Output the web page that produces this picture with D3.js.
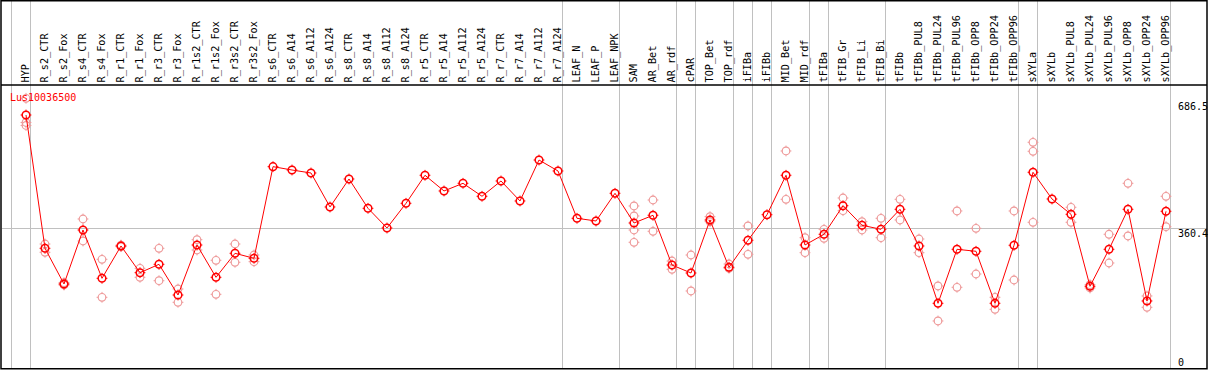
<!DOCTYPE html>
<html><head><meta charset="utf-8">
<script src="https://cdn.jsdelivr.net/npm/d3@7/dist/d3.min.js"></script>
<style>html,body{margin:0;padding:0;background:#fff;}svg{display:block;}</style>
</head><body>
<svg id="chart" width="1209" height="370"></svg>
<script>
const title = "Lus10036500";
const categories = ["HYP","R_s2_CTR","R_s2_Fox","R_s4_CTR","R_s4_Fox","R_r1_CTR","R_r1_Fox","R_r3_CTR","R_r3_Fox","R_r1s2_CTR","R_r1s2_Fox","R_r3s2_CTR","R_r3s2_Fox","R_s6_CTR","R_s6_A14","R_s6_A112","R_s6_A124","R_s8_CTR","R_s8_A14","R_s8_A112","R_s8_A124","R_r5_CTR","R_r5_A14","R_r5_A112","R_r5_A124","R_r7_CTR","R_r7_A14","R_r7_A112","R_r7_A124","LEAF_N","LEAF_P","LEAF_NPK","SAM","AR_Bet","AR_rdf","cPAR","TOP_Bet","TOP_rdf","iFIBa","iFIBb","MID_Bet","MID_rdf","tFIBa","tFIB_Gr","tFIB_Li","tFIB_Bi","tFIBb","tFIBb_PUL8","tFIBb_PUL24","tFIBb_PUL96","tFIBb_OPP8","tFIBb_OPP24","tFIBb_OPP96","sXYLa","sXYLb","sXYLb_PUL8","sXYLb_PUL24","sXYLb_PUL96","sXYLb_OPP8","sXYLb_OPP24","sXYLb_OPP96"];
const means = [652.7,308.8,216.7,356,231.4,314.8,245.9,267.5,188.3,317.3,234,295.9,283,519.4,510.8,503.1,415.4,487.6,412,361.2,424.9,497.2,456.7,476.5,443,482.5,430.9,536.6,508.3,386.2,379.3,450.7,374.1,394,265.7,245.1,381.8,259.8,329.5,395.5,497.2,317.3,344.9,418.7,368.2,357.8,409.4,314.8,166.9,306.2,301.1,166.9,316.6,504.9,436,396.5,210.8,306.2,409.4,172.9,404.3];
const replicates = [[695.8,633.4,625.7],[319.9,298.5],[220.1,214.1],[384.4,327.7],[280.4,182.4],[313,317],[257.2,234],[308.8,225.2],[203.8,169.5],[331,304.4],[277.9,190.1],[319.9,272.7],[291.5,274.3],[],[],[],[],[],[],[],[],[],[],[],[],[],[],[],[],[],[],[],[418,392.2,356,324.3],[433.4,352.7],[276,254.6],[291.5,198.7],[390.4,377.5],[268.3,257.2],[366.4,293.3],[],[559.9,435.2],[336.2,297.5],[357.8,334.6],[438.6,405.8],[377.5,356],[386.2,336.2],[435.2,381.8],[332.8,297.5],[211.6,121.3],[405.1,208.2],[360.4,242.5],[182.4,151.4],[405.1,227],[582.3,559.1,375.9],[],[414.6,375.9],[214.9,206.4],[345,270.9],[476.5,340.6],[185.8,156.6],[443,364.6]];
const groupStarts = ["HYP","R_s2_CTR","LEAF_N","SAM","cPAR","TOP_Bet","iFIBa","iFIBb","MID_Bet","tFIBa","tFIB_Gr","tFIBb","sXYLa","sXYLb"];
const yTicks = [686.5, 360.4, 0];
const gridValue = 360.4;

const svg = d3.select("#chart");
const W = 1209, H = 370;
const x = d3.scaleBand().domain(categories).range([11.3, 11.3 + 19*categories.length]).padding(0);
const px = c => x(c) + 14.7;
const y = d3.scaleLinear().domain([0, 686.5]).range([368, 101.9]);

// gray column separators
const seps = groupStarts.map(c => x(c)).concat([x.range()[1]]);
svg.append("g").selectAll("line").data(seps).join("line")
  .attr("x1", d => d).attr("x2", d => d).attr("y1", 0).attr("y2", 368)
  .attr("stroke", "#c0c0c0").attr("stroke-width", 1).attr("shape-rendering","crispEdges");

// horizontal grid
svg.append("line").attr("x1", 2).attr("x2", 1207).attr("y1", Math.round(y(gridValue))+0.5).attr("y2", Math.round(y(gridValue))+0.5)
  .attr("stroke", "#c0c0c0").attr("stroke-width", 1);

// frame
svg.append("rect").attr("x", 1).attr("y", 0.75).attr("width", 1206).attr("height", 368)
  .attr("fill", "none").attr("stroke", "#000").attr("stroke-width", 1.5);
svg.append("line").attr("x1", 1).attr("x2", 1207).attr("y1", 85).attr("y2", 85)
  .attr("stroke", "#000").attr("stroke-width", 1.5);

// category labels
svg.append("g").selectAll("text").data(categories).join("text")
  .attr("transform", d => `translate(${x(d)+17.5},82.5) rotate(-90)`)
  .attr("font-family", "DejaVu Sans Mono, monospace").attr("font-size", "10.2px")
  .attr("fill", "#000").text(d => d);

// right axis labels
svg.append("g").selectAll("text").data(yTicks).join("text")
  .attr("x", 1178).attr("y", d => Math.min(y(d) + 8.4, 365.5))
  .attr("font-family", "DejaVu Sans Mono, monospace").attr("font-size", "10px")
  .attr("fill", "#000").text(d => d);

function marker(g, cx, cy, color, sw) {
  const r = 3.8;
  g.append("circle").attr("cx", cx).attr("cy", cy).attr("r", r)
    .attr("fill", "none").attr("stroke", color).attr("stroke-width", sw);
  [[0,-1],[0,1],[-1,0],[1,0]].forEach(([dx,dy]) => {
    g.append("line").attr("x1", cx+dx*r).attr("y1", cy+dy*r).attr("x2", cx+dx*(r+1.6)).attr("y2", cy+dy*(r+1.6))
      .attr("stroke", color).attr("stroke-width", 1);
  });
}

// replicates
const gr = svg.append("g");
categories.forEach((c, i) => {
  replicates[i].forEach(v => marker(gr, px(c), y(v), "#ee9a9a", 1.2));
});

// mean line
const line = d3.line().x((d, i) => px(categories[i])).y(d => y(d));
svg.append("path").datum(means).attr("d", line)
  .attr("fill", "none").attr("stroke", "#ff0000").attr("stroke-width", 1);

// mean markers
const gm = svg.append("g");
categories.forEach((c, i) => marker(gm, px(c), y(means[i]), "#ff0000", 1.5));

// title
svg.append("text").attr("x", 10).attr("y", 100.5)
  .attr("font-family", "DejaVu Sans Mono, monospace").attr("font-size", "10px")
  .attr("fill", "#ff0000").text(title);
</script>
</body></html>
